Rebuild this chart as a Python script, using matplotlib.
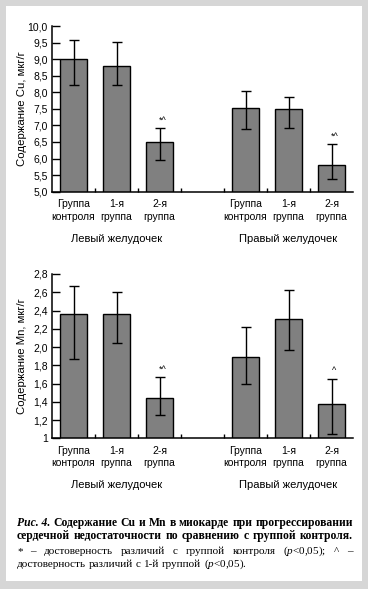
import matplotlib.pyplot as plt
from matplotlib.patches import Rectangle

plt.switch_backend('Agg')

# data
positions = [0, 1, 2, 4, 5, 6]
categories = ['Группа\nконтроля', '1-я\nгруппа', '2-я\nгруппа',
              'Группа\nконтроля', '1-я\nгруппа', '2-я\nгруппа']
groups = ['Левый желудочек', 'Правый желудочек']
group_pos = [1, 5]

cu_mean = [9.0, 8.78, 6.49, 7.54, 7.49, 5.80]
cu_lo = [8.21, 8.21, 5.97, 6.89, 6.92, 5.37]
cu_hi = [9.58, 9.53, 6.92, 8.03, 7.87, 6.44]
cu_marks = ['', '', '*^', '', '', '*^']
cu_ticks = [5.0, 5.5, 6.0, 6.5, 7.0, 7.5, 8.0, 8.5, 9.0, 9.5, 10.0]
cu_ticklabels = ['5,0', '5,5', '6,0', '6,5', '7,0', '7,5', '8,0', '8,5', '9,0', '9,5', '10,0']

mn_mean = [2.36, 2.36, 1.44, 1.89, 2.31, 1.38]
mn_lo = [1.87, 2.04, 1.26, 1.59, 1.97, 1.05]
mn_hi = [2.67, 2.60, 1.67, 2.22, 2.63, 1.65]
mn_marks = ['', '', '*^', '', '', '^']
mn_ticks = [1.0, 1.2, 1.4, 1.6, 1.8, 2.0, 2.2, 2.4, 2.6, 2.8]
mn_ticklabels = ['1', '1,2', '1,4', '1,6', '1,8', '2,0', '2,2', '2,4', '2,6', '2,8']

caption_lines = [
    [('Рис. 4.', 'italic'), ('Содержание', 'normal'), ('Cu', 'normal'), ('и', 'normal'),
     ('Mn', 'normal'), ('в', 'normal'), ('миокарде', 'normal'), ('при', 'normal'),
     ('прогрессировании', 'normal')],
    [(w, 'normal') for w in 'сердечной недостаточности по сравнению с группой контроля.'.split()],
]
note_lines = [
    '* – достоверность различий с группой контроля ($p$<0,05); ^ –'.split(' '),
    'достоверность различий с 1-й группой ($p$<0,05).'.split(' '),
]

plt.rcParams['font.family'] = ['Liberation Sans', 'DejaVu Sans']
plt.rcParams['mathtext.fontset'] = 'custom'
plt.rcParams['mathtext.it'] = 'Liberation Serif:italic'
plt.rcParams['mathtext.rm'] = 'Liberation Serif'

W, H = 368, 589
fig = plt.figure(figsize=(W / 100, H / 100), dpi=100, facecolor='#d6d6d6')
fig.patches.append(Rectangle((6 / W, 1 - 581 / H), 356 / W, 575 / H,
                             transform=fig.transFigure, facecolor='white',
                             edgecolor='none', zorder=-10))


def draw_panel(top_px, bottom_px, mean, lo, hi, marks, ticks, ticklabels, ylabel):
    ax = fig.add_axes([52 / W, 1 - bottom_px / H, 301 / W, (bottom_px - top_px) / H])
    ax.set_facecolor('none')
    yerr = [[m - l for m, l in zip(mean, lo)], [h - m for m, h in zip(mean, hi)]]
    ax.bar(positions, mean, width=0.63, color='#808080', edgecolor='black',
           linewidth=1.0, bottom=0, zorder=2)
    ax.errorbar(positions, mean, yerr=yerr, fmt='none', ecolor='black',
                elinewidth=1.0, capsize=3.5, capthick=1.0, zorder=3)
    for x, h, m in zip(positions, hi, marks):
        if m:
            ax.annotate(m, (x, h), xytext=(2, 2.5), textcoords='offset points',
                        ha='center', va='bottom', fontsize=6.5)
    ax.set_xlim(-0.5, 6.5)
    ax.set_ylim(ticks[0], ticks[-1])
    ax.set_yticks(ticks)
    ax.set_yticklabels(ticklabels)
    ax.set_xticks(positions)
    ax.set_xticklabels(categories, linespacing=1.3)
    ax.set_xticks([0.5, 1.5, 2.5, 3.5, 4.5, 5.5], minor=True)
    ax.tick_params(axis='x', which='major', length=0, pad=5.5, labelsize=7.5)
    ax.tick_params(axis='x', which='minor', direction='in', length=3, width=1.0)
    ax.tick_params(axis='y', direction='in', length=5.5, width=1.0, pad=3,
                   labelsize=7.5)
    for s in ['top', 'right']:
        ax.spines[s].set_visible(False)
    for s in ['left', 'bottom']:
        ax.spines[s].set_linewidth(1.1)
    ax.set_ylabel(ylabel, fontsize=8.2)
    ax.yaxis.set_label_coords(-0.083, 0.5)
    for g, gx in zip(groups, group_pos):
        ax.annotate(g, (gx, ticks[0]), xytext=(0, -47), textcoords='offset pixels',
                    ha='center', va='center', fontsize=8, annotation_clip=False)
    return ax


draw_panel(26, 191.7, cu_mean, cu_lo, cu_hi, cu_marks, cu_ticks, cu_ticklabels,
           'Содержание Cu, мкг/г')
draw_panel(274, 438.3, mn_mean, mn_lo, mn_hi, mn_marks, mn_ticks, mn_ticklabels,
           'Содержание Mn, мкг/г')

# caption, justified between x0 and x1
renderer = fig.canvas.get_renderer()
serif = 'Liberation Serif'
x0, x1 = 17, 353


def put_line(words, y, justify, **kw):
    texts = []
    for w, style in words:
        texts.append(fig.text(0, 1 - y / H, w, family=serif, style=style,
                              va='baseline', **kw))
    widths = [t.get_window_extent(renderer).width for t in texts]
    space = renderer.points_to_pixels(kw['fontsize']) * 0.25
    if justify and len(texts) > 1:
        space = (x1 - x0 - sum(widths)) / (len(texts) - 1)
    x = x0
    for t, w in zip(texts, widths):
        t.set_x(x / W)
        x += w + space


put_line(caption_lines[0], 526, True, weight='bold', fontsize=8.4)
put_line(caption_lines[1], 539, True, weight='bold', fontsize=8.4)
put_line([(w, 'normal') for w in note_lines[0]], 554, True, fontsize=8.0)
put_line([(w, 'normal') for w in note_lines[1]], 567, False, fontsize=8.0)

fig.savefig('out.png', dpi=100, facecolor=fig.get_facecolor())
